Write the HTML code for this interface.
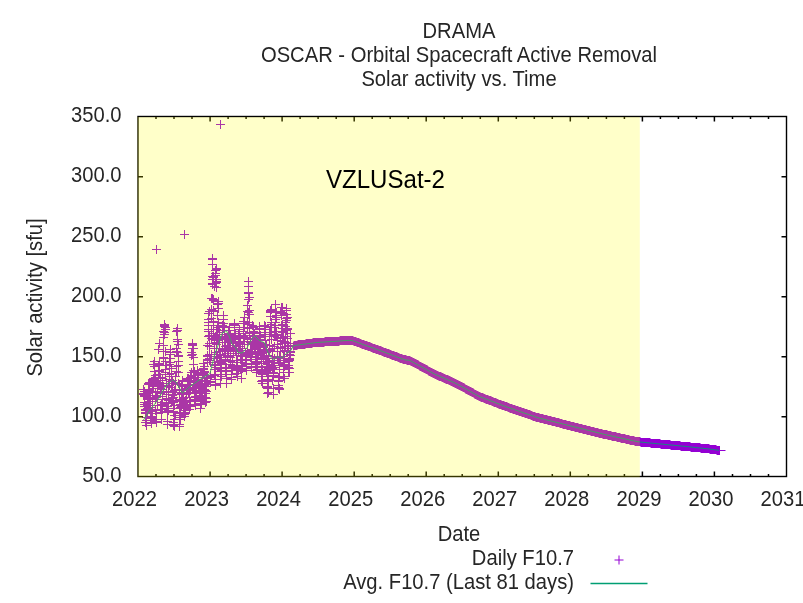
<!DOCTYPE html>
<html><head><meta charset="utf-8"><title>DRAMA OSCAR - Solar activity vs. Time</title>
<style>
html,body{margin:0;padding:0;background:#fff;}
svg{display:block}
text{font-family:"Liberation Sans",Arial,sans-serif;font-size:20.2px;fill:#262626}
</style></head><body>
<svg width="803" height="603" viewBox="0 0 803 603">
<rect width="803" height="603" fill="#fff"/>
<text transform="translate(459 37.5) scale(1 1.08)" text-anchor="middle">DRAMA</text>
<text transform="translate(459 61.5) scale(1 1.08)" text-anchor="middle">OSCAR - Orbital Spacecraft Active Removal</text>
<text transform="translate(459 85.6) scale(1 1.08)" text-anchor="middle">Solar activity vs. Time</text>
<text transform="translate(459 541.2) scale(1 1.08)" text-anchor="middle">Date</text>
<text transform="translate(41.5 297.5) rotate(-90) scale(1 1.08)" text-anchor="middle">Solar activity [sfu]</text>
<text transform="translate(121.5 482.2) scale(1 1.08)" text-anchor="end">50.0</text><text transform="translate(121.5 422.2) scale(1 1.08)" text-anchor="end">100.0</text><text transform="translate(121.5 362.2) scale(1 1.08)" text-anchor="end">150.0</text><text transform="translate(121.5 302.2) scale(1 1.08)" text-anchor="end">200.0</text><text transform="translate(121.5 242.2) scale(1 1.08)" text-anchor="end">250.0</text><text transform="translate(121.5 182.2) scale(1 1.08)" text-anchor="end">300.0</text><text transform="translate(121.5 122.2) scale(1 1.08)" text-anchor="end">350.0</text>
<text transform="translate(134.5 506.3) scale(1 1.08)" text-anchor="middle">2022</text><text transform="translate(206.6 506.3) scale(1 1.08)" text-anchor="middle">2023</text><text transform="translate(278.6 506.3) scale(1 1.08)" text-anchor="middle">2024</text><text transform="translate(350.7 506.3) scale(1 1.08)" text-anchor="middle">2025</text><text transform="translate(422.7 506.3) scale(1 1.08)" text-anchor="middle">2026</text><text transform="translate(494.8 506.3) scale(1 1.08)" text-anchor="middle">2027</text><text transform="translate(566.8 506.3) scale(1 1.08)" text-anchor="middle">2028</text><text transform="translate(638.9 506.3) scale(1 1.08)" text-anchor="middle">2029</text><text transform="translate(710.9 506.3) scale(1 1.08)" text-anchor="middle">2030</text><text transform="translate(783 506.3) scale(1 1.08)" text-anchor="middle">2031</text>
<text transform="translate(574 565) scale(1 1.08)" text-anchor="end">Daily F10.7</text>
<text transform="translate(574 589) scale(1 1.08)" text-anchor="end">Avg. F10.7 (Last 81 days)</text>
<path d="M614.5 560h9M619 555.5v9" stroke="#9400d3" stroke-width="1" fill="none"/>
<path d="M590.5 583.5h57" stroke="#009e73" stroke-width="1.3" fill="none"/>
<path d="M139 393.5h9M143.5 389v9M139 389.5h9M143.5 385v9M139 389.5h9M143.5 385v9M139 394.5h9M143.5 390v9M140 391.5h9M144.5 387v9M140 396.5h9M144.5 392v9M140 395.5h9M144.5 391v9M140 393.5h9M144.5 389v9M140 404.5h9M144.5 400v9M140 402.5h9M144.5 398v9M140 406.5h9M144.5 402v9M141 406.5h9M145.5 402v9M141 413.5h9M145.5 409v9M141 412.5h9M145.5 408v9M141 412.5h9M145.5 408v9M141 409.5h9M145.5 405v9M141 410.5h9M145.5 406v9M141 422.5h9M145.5 418v9M142 422.5h9M146.5 418v9M142 417.5h9M146.5 413v9M142 425.5h9M146.5 421v9M142 420.5h9M146.5 416v9M142 417.5h9M146.5 413v9M142 409.5h9M146.5 405v9M142 409.5h9M146.5 405v9M143 412.5h9M147.5 408v9M143 410.5h9M147.5 406v9M143 408.5h9M147.5 404v9M143 399.5h9M147.5 395v9M143 405.5h9M147.5 401v9M143 403.5h9M147.5 399v9M143 398.5h9M147.5 394v9M144 398.5h9M148.5 394v9M144 397.5h9M148.5 393v9M144 399.5h9M148.5 395v9M144 393.5h9M148.5 389v9M144 392.5h9M148.5 388v9M144 384.5h9M148.5 380v9M144 383.5h9M148.5 379v9M144 384.5h9M148.5 380v9M145 382.5h9M149.5 378v9M145 389.5h9M149.5 385v9M145 384.5h9M149.5 380v9M145 391.5h9M149.5 387v9M145 390.5h9M149.5 386v9M145 401.5h9M149.5 397v9M145 395.5h9M149.5 391v9M146 407.5h9M150.5 403v9M146 411.5h9M150.5 407v9M146 405.5h9M150.5 401v9M146 410.5h9M150.5 406v9M146 407.5h9M150.5 403v9M146 398.5h9M150.5 394v9M146 417.5h9M150.5 413v9M147 418.5h9M151.5 414v9M147 416.5h9M151.5 412v9M147 418.5h9M151.5 414v9M147 423.5h9M151.5 419v9M147 420.5h9M151.5 416v9M147 413.5h9M151.5 409v9M147 411.5h9M151.5 407v9M148 417.5h9M152.5 413v9M148 409.5h9M152.5 405v9M148 405.5h9M152.5 401v9M148 409.5h9M152.5 405v9M148 398.5h9M152.5 394v9M148 401.5h9M152.5 397v9M148 386.5h9M152.5 382v9M149 388.5h9M153.5 384v9M149 385.5h9M153.5 381v9M149 386.5h9M153.5 382v9M149 379.5h9M153.5 375v9M149 388.5h9M153.5 384v9M149 378.5h9M153.5 374v9M149 364.5h9M153.5 360v9M150 380.5h9M154.5 376v9M150 361.5h9M154.5 357v9M150 382.5h9M154.5 378v9M150 366.5h9M154.5 362v9M150 381.5h9M154.5 377v9M150 371.5h9M154.5 367v9M150 379.5h9M154.5 375v9M151 395.5h9M155.5 391v9M151 375.5h9M155.5 371v9M151 377.5h9M155.5 373v9M151 392.5h9M155.5 388v9M151 397.5h9M155.5 393v9M151 399.5h9M155.5 395v9M151 410.5h9M155.5 406v9M152 396.5h9M156.5 392v9M152 413.5h9M156.5 409v9M152 413.5h9M156.5 409v9M152 422.5h9M156.5 418v9M152 419.5h9M156.5 415v9M152 421.5h9M156.5 417v9M152 396.5h9M156.5 392v9M153 405.5h9M157.5 401v9M153 392.5h9M157.5 388v9M153 396.5h9M157.5 392v9M153 399.5h9M157.5 395v9M153 392.5h9M157.5 388v9M153 391.5h9M157.5 387v9M153 382.5h9M157.5 378v9M154 382.5h9M158.5 378v9M154 377.5h9M158.5 373v9M154 383.5h9M158.5 379v9M154 374.5h9M158.5 370v9M154 349.5h9M158.5 345v9M154 365.5h9M158.5 361v9M154 365.5h9M158.5 361v9M154 349.5h9M158.5 345v9M155 343.5h9M159.5 339v9M155 371.5h9M159.5 367v9M155 363.5h9M159.5 359v9M155 370.5h9M159.5 366v9M155 384.5h9M159.5 380v9M155 364.5h9M159.5 360v9M155 374.5h9M159.5 370v9M156 377.5h9M160.5 373v9M156 388.5h9M160.5 384v9M156 380.5h9M160.5 376v9M156 393.5h9M160.5 389v9M156 392.5h9M160.5 388v9M156 405.5h9M160.5 401v9M156 409.5h9M160.5 405v9M157 389.5h9M161.5 385v9M157 409.5h9M161.5 405v9M157 405.5h9M161.5 401v9M157 412.5h9M161.5 408v9M157 419.5h9M161.5 415v9M157 419.5h9M161.5 415v9M157 404.5h9M161.5 400v9M158 409.5h9M162.5 405v9M158 402.5h9M162.5 398v9M158 396.5h9M162.5 392v9M158 380.5h9M162.5 376v9M158 380.5h9M162.5 376v9M158 378.5h9M162.5 374v9M158 383.5h9M162.5 379v9M159 386.5h9M163.5 382v9M159 357.5h9M163.5 353v9M159 351.5h9M163.5 347v9M159 358.5h9M163.5 354v9M159 345.5h9M163.5 341v9M159 337.5h9M163.5 333v9M159 331.5h9M163.5 327v9M160 326.5h9M164.5 322v9M160 334.5h9M164.5 330v9M160 324.5h9M164.5 320v9M160 332.5h9M164.5 328v9M160 324.5h9M164.5 320v9M160 325.5h9M164.5 321v9M160 326.5h9M164.5 322v9M161 327.5h9M165.5 323v9M161 329.5h9M165.5 325v9M161 361.5h9M165.5 357v9M161 372.5h9M165.5 368v9M161 351.5h9M165.5 347v9M161 374.5h9M165.5 370v9M161 369.5h9M165.5 365v9M162 365.5h9M166.5 361v9M162 394.5h9M166.5 390v9M162 403.5h9M166.5 399v9M162 385.5h9M166.5 381v9M162 391.5h9M166.5 387v9M162 398.5h9M166.5 394v9M162 399.5h9M166.5 395v9M163 411.5h9M167.5 407v9M163 421.5h9M167.5 417v9M163 412.5h9M167.5 408v9M163 424.5h9M167.5 420v9M163 424.5h9M167.5 420v9M163 406.5h9M167.5 402v9M163 408.5h9M167.5 404v9M164 400.5h9M168.5 396v9M164 410.5h9M168.5 406v9M164 403.5h9M168.5 399v9M164 403.5h9M168.5 399v9M164 399.5h9M168.5 395v9M164 386.5h9M168.5 382v9M164 392.5h9M168.5 388v9M165 379.5h9M169.5 375v9M165 376.5h9M169.5 372v9M165 358.5h9M169.5 354v9M165 385.5h9M169.5 381v9M165 362.5h9M169.5 358v9M165 368.5h9M169.5 364v9M165 364.5h9M169.5 360v9M165 374.5h9M169.5 370v9M166 362.5h9M170.5 358v9M166 349.5h9M170.5 345v9M166 354.5h9M170.5 350v9M166 352.5h9M170.5 348v9M166 358.5h9M170.5 354v9M166 349.5h9M170.5 345v9M166 362.5h9M170.5 358v9M167 383.5h9M171.5 379v9M167 373.5h9M171.5 369v9M167 387.5h9M171.5 383v9M167 400.5h9M171.5 396v9M167 381.5h9M171.5 377v9M167 368.5h9M171.5 364v9M167 381.5h9M171.5 377v9M168 394.5h9M172.5 390v9M168 395.5h9M172.5 391v9M168 380.5h9M172.5 376v9M168 391.5h9M172.5 387v9M168 395.5h9M172.5 391v9M168 398.5h9M172.5 394v9M168 401.5h9M172.5 397v9M169 397.5h9M173.5 393v9M169 402.5h9M173.5 398v9M169 408.5h9M173.5 404v9M169 422.5h9M173.5 418v9M169 411.5h9M173.5 407v9M169 425.5h9M173.5 421v9M169 412.5h9M173.5 408v9M170 426.5h9M174.5 422v9M170 419.5h9M174.5 415v9M170 415.5h9M174.5 411v9M170 424.5h9M174.5 420v9M170 392.5h9M174.5 388v9M170 390.5h9M174.5 386v9M170 405.5h9M174.5 401v9M171 389.5h9M175.5 385v9M171 389.5h9M175.5 385v9M171 415.5h9M175.5 411v9M171 383.5h9M175.5 379v9M171 382.5h9M175.5 378v9M171 376.5h9M175.5 372v9M171 384.5h9M175.5 380v9M172 371.5h9M176.5 367v9M172 366.5h9M176.5 362v9M172 348.5h9M176.5 344v9M172 352.5h9M176.5 348v9M172 351.5h9M176.5 347v9M172 331.5h9M176.5 327v9M172 348.5h9M176.5 344v9M173 341.5h9M177.5 337v9M173 352.5h9M177.5 348v9M173 328.5h9M177.5 324v9M173 328.5h9M177.5 324v9M173 328.5h9M177.5 324v9M173 330.5h9M177.5 326v9M173 339.5h9M177.5 335v9M174 344.5h9M178.5 340v9M174 355.5h9M178.5 351v9M174 361.5h9M178.5 357v9M174 365.5h9M178.5 361v9M174 356.5h9M178.5 352v9M174 372.5h9M178.5 368v9M174 383.5h9M178.5 379v9M175 394.5h9M179.5 390v9M175 400.5h9M179.5 396v9M175 384.5h9M179.5 380v9M175 399.5h9M179.5 395v9M175 408.5h9M179.5 404v9M175 417.5h9M179.5 413v9M175 426.5h9M179.5 422v9M175 424.5h9M179.5 420v9M176 413.5h9M180.5 409v9M176 419.5h9M180.5 415v9M176 415.5h9M180.5 411v9M176 412.5h9M180.5 408v9M176 407.5h9M180.5 403v9M176 415.5h9M180.5 411v9M176 404.5h9M180.5 400v9M177 406.5h9M181.5 402v9M177 393.5h9M181.5 389v9M177 401.5h9M181.5 397v9M177 392.5h9M181.5 388v9M177 385.5h9M181.5 381v9M177 393.5h9M181.5 389v9M177 392.5h9M181.5 388v9M178 386.5h9M182.5 382v9M178 386.5h9M182.5 382v9M178 389.5h9M182.5 385v9M178 381.5h9M182.5 377v9M178 380.5h9M182.5 376v9M178 390.5h9M182.5 386v9M178 392.5h9M182.5 388v9M179 398.5h9M183.5 394v9M179 394.5h9M183.5 390v9M179 403.5h9M183.5 399v9M179 404.5h9M183.5 400v9M179 397.5h9M183.5 393v9M179 407.5h9M183.5 403v9M179 401.5h9M183.5 397v9M180 402.5h9M184.5 398v9M180 407.5h9M184.5 403v9M180 408.5h9M184.5 404v9M180 405.5h9M184.5 401v9M180 412.5h9M184.5 408v9M180 414.5h9M184.5 410v9M180 416.5h9M184.5 412v9M181 413.5h9M185.5 409v9M181 407.5h9M185.5 403v9M181 406.5h9M185.5 402v9M181 410.5h9M185.5 406v9M181 408.5h9M185.5 404v9M181 405.5h9M185.5 401v9M181 400.5h9M185.5 396v9M182 400.5h9M186.5 396v9M182 397.5h9M186.5 393v9M182 394.5h9M186.5 390v9M182 394.5h9M186.5 390v9M182 392.5h9M186.5 388v9M182 389.5h9M186.5 385v9M182 388.5h9M186.5 384v9M183 384.5h9M187.5 380v9M183 378.5h9M187.5 374v9M183 379.5h9M187.5 375v9M183 379.5h9M187.5 375v9M183 385.5h9M187.5 381v9M183 378.5h9M187.5 374v9M183 388.5h9M187.5 384v9M184 387.5h9M188.5 383v9M184 378.5h9M188.5 374v9M184 380.5h9M188.5 376v9M184 385.5h9M188.5 381v9M184 393.5h9M188.5 389v9M184 389.5h9M188.5 385v9M184 392.5h9M188.5 388v9M185 387.5h9M189.5 383v9M185 380.5h9M189.5 376v9M185 393.5h9M189.5 389v9M185 400.5h9M189.5 396v9M185 404.5h9M189.5 400v9M185 400.5h9M189.5 396v9M185 404.5h9M189.5 400v9M185 409.5h9M189.5 405v9M186 401.5h9M190.5 397v9M186 406.5h9M190.5 402v9M186 388.5h9M190.5 384v9M186 384.5h9M190.5 380v9M186 381.5h9M190.5 377v9M186 387.5h9M190.5 383v9M186 377.5h9M190.5 373v9M187 378.5h9M191.5 374v9M187 376.5h9M191.5 372v9M187 372.5h9M191.5 368v9M187 375.5h9M191.5 371v9M187 372.5h9M191.5 368v9M187 352.5h9M191.5 348v9M187 355.5h9M191.5 351v9M188 348.5h9M192.5 344v9M188 343.5h9M192.5 339v9M188 354.5h9M192.5 350v9M188 345.5h9M192.5 341v9M188 344.5h9M192.5 340v9M188 345.5h9M192.5 341v9M188 354.5h9M192.5 350v9M189 348.5h9M193.5 344v9M189 357.5h9M193.5 353v9M189 370.5h9M193.5 366v9M189 372.5h9M193.5 368v9M189 364.5h9M193.5 360v9M189 370.5h9M193.5 366v9M189 388.5h9M193.5 384v9M190 371.5h9M194.5 367v9M190 378.5h9M194.5 374v9M190 377.5h9M194.5 373v9M190 390.5h9M194.5 386v9M190 392.5h9M194.5 388v9M190 400.5h9M194.5 396v9M190 382.5h9M194.5 378v9M191 399.5h9M195.5 395v9M191 392.5h9M195.5 388v9M191 404.5h9M195.5 400v9M191 397.5h9M195.5 393v9M191 405.5h9M195.5 401v9M191 396.5h9M195.5 392v9M191 388.5h9M195.5 384v9M192 397.5h9M196.5 393v9M192 384.5h9M196.5 380v9M192 386.5h9M196.5 382v9M192 391.5h9M196.5 387v9M192 387.5h9M196.5 383v9M192 385.5h9M196.5 381v9M192 382.5h9M196.5 378v9M193 383.5h9M197.5 379v9M193 383.5h9M197.5 379v9M193 379.5h9M197.5 375v9M193 381.5h9M197.5 377v9M193 381.5h9M197.5 377v9M193 374.5h9M197.5 370v9M193 370.5h9M197.5 366v9M194 377.5h9M198.5 373v9M194 373.5h9M198.5 369v9M194 377.5h9M198.5 373v9M194 380.5h9M198.5 376v9M194 375.5h9M198.5 371v9M194 382.5h9M198.5 378v9M194 375.5h9M198.5 371v9M195 387.5h9M199.5 383v9M195 384.5h9M199.5 380v9M195 388.5h9M199.5 384v9M195 392.5h9M199.5 388v9M195 388.5h9M199.5 384v9M195 393.5h9M199.5 389v9M195 392.5h9M199.5 388v9M196 396.5h9M200.5 392v9M196 403.5h9M200.5 399v9M196 400.5h9M200.5 396v9M196 401.5h9M200.5 397v9M196 399.5h9M200.5 395v9M196 408.5h9M200.5 404v9M196 404.5h9M200.5 400v9M196 408.5h9M200.5 404v9M197 398.5h9M201.5 394v9M197 403.5h9M201.5 399v9M197 404.5h9M201.5 400v9M197 395.5h9M201.5 391v9M197 388.5h9M201.5 384v9M197 397.5h9M201.5 393v9M197 393.5h9M201.5 389v9M198 390.5h9M202.5 386v9M198 389.5h9M202.5 385v9M198 380.5h9M202.5 376v9M198 384.5h9M202.5 380v9M198 381.5h9M202.5 377v9M198 373.5h9M202.5 369v9M198 377.5h9M202.5 373v9M199 369.5h9M203.5 365v9M199 373.5h9M203.5 369v9M199 372.5h9M203.5 368v9M199 374.5h9M203.5 370v9M199 363.5h9M203.5 359v9M199 369.5h9M203.5 365v9M199 368.5h9M203.5 364v9M200 371.5h9M204.5 367v9M200 372.5h9M204.5 368v9M200 375.5h9M204.5 371v9M200 366.5h9M204.5 362v9M200 385.5h9M204.5 381v9M200 390.5h9M204.5 386v9M200 389.5h9M204.5 385v9M201 393.5h9M205.5 389v9M201 383.5h9M205.5 379v9M201 384.5h9M205.5 380v9M201 397.5h9M205.5 393v9M201 402.5h9M205.5 398v9M201 398.5h9M205.5 394v9M201 390.5h9M205.5 386v9M202 401.5h9M206.5 397v9M202 391.5h9M206.5 387v9M202 398.5h9M206.5 394v9M202 380.5h9M206.5 376v9M202 391.5h9M206.5 387v9M202 381.5h9M206.5 377v9M202 386.5h9M206.5 382v9M203 378.5h9M207.5 374v9M203 356.5h9M207.5 352v9M203 355.5h9M207.5 351v9M203 360.5h9M207.5 356v9M203 359.5h9M207.5 355v9M203 362.5h9M207.5 358v9M203 345.5h9M207.5 341v9M204 336.5h9M208.5 332v9M204 331.5h9M208.5 327v9M204 325.5h9M208.5 321v9M204 329.5h9M208.5 325v9M204 319.5h9M208.5 315v9M204 322.5h9M208.5 318v9M204 313.5h9M208.5 309v9M205 311.5h9M209.5 307v9M205 335.5h9M209.5 331v9M205 346.5h9M209.5 342v9M205 343.5h9M209.5 339v9M205 354.5h9M209.5 350v9M205 360.5h9M209.5 356v9M205 358.5h9M209.5 354v9M206 375.5h9M210.5 371v9M206 362.5h9M210.5 358v9M206 376.5h9M210.5 372v9M206 377.5h9M210.5 373v9M206 382.5h9M210.5 378v9M206 381.5h9M210.5 377v9M206 375.5h9M210.5 371v9M206 358.5h9M210.5 354v9M207 354.5h9M211.5 350v9M207 335.5h9M211.5 331v9M207 329.5h9M211.5 325v9M207 338.5h9M211.5 334v9M207 309.5h9M211.5 305v9M207 318.5h9M211.5 314v9M207 298.5h9M211.5 294v9M208 283.5h9M212.5 279v9M208 298.5h9M212.5 294v9M208 259.5h9M212.5 255v9M208 258.5h9M212.5 254v9M208 264.5h9M212.5 260v9M208 276.5h9M212.5 272v9M208 284.5h9M212.5 280v9M209 300.5h9M213.5 296v9M209 299.5h9M213.5 295v9M209 311.5h9M213.5 307v9M209 310.5h9M213.5 306v9M209 333.5h9M213.5 329v9M209 321.5h9M213.5 317v9M209 329.5h9M213.5 325v9M210 339.5h9M214.5 335v9M210 348.5h9M214.5 344v9M210 343.5h9M214.5 339v9M210 375.5h9M214.5 371v9M210 356.5h9M214.5 352v9M210 364.5h9M214.5 360v9M210 369.5h9M214.5 365v9M211 374.5h9M215.5 370v9M211 385.5h9M215.5 381v9M211 384.5h9M215.5 380v9M211 369.5h9M215.5 365v9M211 367.5h9M215.5 363v9M211 365.5h9M215.5 361v9M211 379.5h9M215.5 375v9M212 352.5h9M216.5 348v9M212 342.5h9M216.5 338v9M212 340.5h9M216.5 336v9M212 344.5h9M216.5 340v9M212 358.5h9M216.5 354v9M212 329.5h9M216.5 325v9M212 337.5h9M216.5 333v9M213 356.5h9M217.5 352v9M213 325.5h9M217.5 321v9M213 339.5h9M217.5 335v9M213 334.5h9M217.5 330v9M213 325.5h9M217.5 321v9M213 304.5h9M217.5 300v9M213 315.5h9M217.5 311v9M214 308.5h9M218.5 304v9M214 301.5h9M218.5 297v9M214 303.5h9M218.5 299v9M214 322.5h9M218.5 318v9M214 327.5h9M218.5 323v9M214 340.5h9M218.5 336v9M214 338.5h9M218.5 334v9M215 332.5h9M219.5 328v9M215 336.5h9M219.5 332v9M215 342.5h9M219.5 338v9M215 338.5h9M219.5 334v9M215 357.5h9M219.5 353v9M215 354.5h9M219.5 350v9M215 351.5h9M219.5 347v9M216 355.5h9M220.5 351v9M216 355.5h9M220.5 351v9M216 364.5h9M220.5 360v9M216 374.5h9M220.5 370v9M216 371.5h9M220.5 367v9M216 383.5h9M220.5 379v9M216 383.5h9M220.5 379v9M216 368.5h9M220.5 364v9M217 370.5h9M221.5 366v9M217 363.5h9M221.5 359v9M217 376.5h9M221.5 372v9M217 362.5h9M221.5 358v9M217 361.5h9M221.5 357v9M217 360.5h9M221.5 356v9M217 368.5h9M221.5 364v9M218 349.5h9M222.5 345v9M218 336.5h9M222.5 332v9M218 337.5h9M222.5 333v9M218 342.5h9M222.5 338v9M218 334.5h9M222.5 330v9M218 325.5h9M222.5 321v9M218 350.5h9M222.5 346v9M219 327.5h9M223.5 323v9M219 319.5h9M223.5 315v9M219 315.5h9M223.5 311v9M219 315.5h9M223.5 311v9M219 315.5h9M223.5 311v9M219 323.5h9M223.5 319v9M219 326.5h9M223.5 322v9M220 326.5h9M224.5 322v9M220 339.5h9M224.5 335v9M220 338.5h9M224.5 334v9M220 334.5h9M224.5 330v9M220 330.5h9M224.5 326v9M220 348.5h9M224.5 344v9M220 350.5h9M224.5 346v9M221 351.5h9M225.5 347v9M221 346.5h9M225.5 342v9M221 359.5h9M225.5 355v9M221 351.5h9M225.5 347v9M221 371.5h9M225.5 367v9M221 368.5h9M225.5 364v9M221 371.5h9M225.5 367v9M222 367.5h9M226.5 363v9M222 368.5h9M226.5 364v9M222 383.5h9M226.5 379v9M222 378.5h9M226.5 374v9M222 367.5h9M226.5 363v9M222 371.5h9M226.5 367v9M222 374.5h9M226.5 370v9M223 355.5h9M227.5 351v9M223 356.5h9M227.5 352v9M223 353.5h9M227.5 349v9M223 357.5h9M227.5 353v9M223 345.5h9M227.5 341v9M223 350.5h9M227.5 346v9M223 339.5h9M227.5 335v9M224 350.5h9M228.5 346v9M224 347.5h9M228.5 343v9M224 338.5h9M228.5 334v9M224 341.5h9M228.5 337v9M224 330.5h9M228.5 326v9M224 330.5h9M228.5 326v9M224 335.5h9M228.5 331v9M225 327.5h9M229.5 323v9M225 333.5h9M229.5 329v9M225 327.5h9M229.5 323v9M225 340.5h9M229.5 336v9M225 341.5h9M229.5 337v9M225 334.5h9M229.5 330v9M225 330.5h9M229.5 326v9M226 334.5h9M230.5 330v9M226 349.5h9M230.5 345v9M226 350.5h9M230.5 346v9M226 345.5h9M230.5 341v9M226 357.5h9M230.5 353v9M226 364.5h9M230.5 360v9M226 360.5h9M230.5 356v9M226 361.5h9M230.5 357v9M227 370.5h9M231.5 366v9M227 377.5h9M231.5 373v9M227 379.5h9M231.5 375v9M227 368.5h9M231.5 364v9M227 379.5h9M231.5 375v9M227 374.5h9M231.5 370v9M227 370.5h9M231.5 366v9M228 365.5h9M232.5 361v9M228 368.5h9M232.5 364v9M228 360.5h9M232.5 356v9M228 366.5h9M232.5 362v9M228 360.5h9M232.5 356v9M228 362.5h9M232.5 358v9M228 347.5h9M232.5 343v9M229 351.5h9M233.5 347v9M229 353.5h9M233.5 349v9M229 348.5h9M233.5 344v9M229 345.5h9M233.5 341v9M229 337.5h9M233.5 333v9M229 348.5h9M233.5 344v9M229 342.5h9M233.5 338v9M230 335.5h9M234.5 331v9M230 324.5h9M234.5 320v9M230 323.5h9M234.5 319v9M230 327.5h9M234.5 323v9M230 325.5h9M234.5 321v9M230 323.5h9M234.5 319v9M230 336.5h9M234.5 332v9M231 339.5h9M235.5 335v9M231 333.5h9M235.5 329v9M231 339.5h9M235.5 335v9M231 341.5h9M235.5 337v9M231 351.5h9M235.5 347v9M231 339.5h9M235.5 335v9M231 343.5h9M235.5 339v9M232 353.5h9M236.5 349v9M232 355.5h9M236.5 351v9M232 373.5h9M236.5 369v9M232 360.5h9M236.5 356v9M232 368.5h9M236.5 364v9M232 367.5h9M236.5 363v9M232 369.5h9M236.5 365v9M233 376.5h9M237.5 372v9M233 376.5h9M237.5 372v9M233 366.5h9M237.5 362v9M233 370.5h9M237.5 366v9M233 365.5h9M237.5 361v9M233 365.5h9M237.5 361v9M233 360.5h9M237.5 356v9M234 370.5h9M238.5 366v9M234 346.5h9M238.5 342v9M234 349.5h9M238.5 345v9M234 341.5h9M238.5 337v9M234 333.5h9M238.5 329v9M234 342.5h9M238.5 338v9M234 351.5h9M238.5 347v9M235 343.5h9M239.5 339v9M235 342.5h9M239.5 338v9M235 335.5h9M239.5 331v9M235 329.5h9M239.5 325v9M235 343.5h9M239.5 339v9M235 331.5h9M239.5 327v9M235 346.5h9M239.5 342v9M236 338.5h9M240.5 334v9M236 344.5h9M240.5 340v9M236 348.5h9M240.5 344v9M236 350.5h9M240.5 346v9M236 356.5h9M240.5 352v9M236 359.5h9M240.5 355v9M236 369.5h9M240.5 365v9M237 362.5h9M241.5 358v9M237 353.5h9M241.5 349v9M237 355.5h9M241.5 351v9M237 362.5h9M241.5 358v9M237 369.5h9M241.5 365v9M237 378.5h9M241.5 374v9M237 365.5h9M241.5 361v9M237 371.5h9M241.5 367v9M238 368.5h9M242.5 364v9M238 365.5h9M242.5 361v9M238 359.5h9M242.5 355v9M238 359.5h9M242.5 355v9M238 353.5h9M242.5 349v9M238 356.5h9M242.5 352v9M238 348.5h9M242.5 344v9M239 327.5h9M243.5 323v9M239 338.5h9M243.5 334v9M239 336.5h9M243.5 332v9M239 327.5h9M243.5 323v9M239 323.5h9M243.5 319v9M239 331.5h9M243.5 327v9M239 321.5h9M243.5 317v9M240 317.5h9M244.5 313v9M240 323.5h9M244.5 319v9M240 327.5h9M244.5 323v9M240 321.5h9M244.5 317v9M240 338.5h9M244.5 334v9M240 337.5h9M244.5 333v9M240 344.5h9M244.5 340v9M241 335.5h9M245.5 331v9M241 359.5h9M245.5 355v9M241 354.5h9M245.5 350v9M241 356.5h9M245.5 352v9M241 352.5h9M245.5 348v9M241 356.5h9M245.5 352v9M241 354.5h9M245.5 350v9M242 370.5h9M246.5 366v9M242 364.5h9M246.5 360v9M242 368.5h9M246.5 364v9M242 366.5h9M246.5 362v9M242 355.5h9M246.5 351v9M242 360.5h9M246.5 356v9M242 363.5h9M246.5 359v9M243 350.5h9M247.5 346v9M243 352.5h9M247.5 348v9M243 341.5h9M247.5 337v9M243 328.5h9M247.5 324v9M243 322.5h9M247.5 318v9M243 305.5h9M247.5 301v9M243 311.5h9M247.5 307v9M244 314.5h9M248.5 310v9M244 299.5h9M248.5 295v9M244 292.5h9M248.5 288v9M244 286.5h9M248.5 282v9M244 281.5h9M248.5 277v9M244 293.5h9M248.5 289v9M244 312.5h9M248.5 308v9M245 297.5h9M249.5 293v9M245 310.5h9M249.5 306v9M245 314.5h9M249.5 310v9M245 322.5h9M249.5 318v9M245 324.5h9M249.5 320v9M245 333.5h9M249.5 329v9M245 332.5h9M249.5 328v9M246 339.5h9M250.5 335v9M246 342.5h9M250.5 338v9M246 344.5h9M250.5 340v9M246 357.5h9M250.5 353v9M246 353.5h9M250.5 349v9M246 356.5h9M250.5 352v9M246 356.5h9M250.5 352v9M247 367.5h9M251.5 363v9M247 354.5h9M251.5 350v9M247 363.5h9M251.5 359v9M247 367.5h9M251.5 363v9M247 367.5h9M251.5 363v9M247 359.5h9M251.5 355v9M247 356.5h9M251.5 352v9M247 357.5h9M251.5 353v9M248 351.5h9M252.5 347v9M248 352.5h9M252.5 348v9M248 344.5h9M252.5 340v9M248 349.5h9M252.5 345v9M248 343.5h9M252.5 339v9M248 335.5h9M252.5 331v9M248 325.5h9M252.5 321v9M249 343.5h9M253.5 339v9M249 338.5h9M253.5 334v9M249 338.5h9M253.5 334v9M249 327.5h9M253.5 323v9M249 336.5h9M253.5 332v9M249 331.5h9M253.5 327v9M249 326.5h9M253.5 322v9M250 333.5h9M254.5 329v9M250 335.5h9M254.5 331v9M250 335.5h9M254.5 331v9M250 347.5h9M254.5 343v9M250 345.5h9M254.5 341v9M250 342.5h9M254.5 338v9M250 341.5h9M254.5 337v9M251 346.5h9M255.5 342v9M251 357.5h9M255.5 353v9M251 352.5h9M255.5 348v9M251 348.5h9M255.5 344v9M251 351.5h9M255.5 347v9M251 357.5h9M255.5 353v9M251 364.5h9M255.5 360v9M252 357.5h9M256.5 353v9M252 366.5h9M256.5 362v9M252 372.5h9M256.5 368v9M252 372.5h9M256.5 368v9M252 361.5h9M256.5 357v9M252 370.5h9M256.5 366v9M252 362.5h9M256.5 358v9M253 369.5h9M257.5 365v9M253 359.5h9M257.5 355v9M253 366.5h9M257.5 362v9M253 361.5h9M257.5 357v9M253 345.5h9M257.5 341v9M253 352.5h9M257.5 348v9M253 357.5h9M257.5 353v9M254 353.5h9M258.5 349v9M254 349.5h9M258.5 345v9M254 342.5h9M258.5 338v9M254 349.5h9M258.5 345v9M254 354.5h9M258.5 350v9M254 344.5h9M258.5 340v9M254 340.5h9M258.5 336v9M255 337.5h9M259.5 333v9M255 328.5h9M259.5 324v9M255 332.5h9M259.5 328v9M255 326.5h9M259.5 322v9M255 339.5h9M259.5 335v9M255 329.5h9M259.5 325v9M255 326.5h9M259.5 322v9M256 335.5h9M260.5 331v9M256 340.5h9M260.5 336v9M256 343.5h9M260.5 339v9M256 336.5h9M260.5 332v9M256 355.5h9M260.5 351v9M256 353.5h9M260.5 349v9M256 352.5h9M260.5 348v9M257 353.5h9M261.5 349v9M257 363.5h9M261.5 359v9M257 361.5h9M261.5 357v9M257 367.5h9M261.5 363v9M257 367.5h9M261.5 363v9M257 371.5h9M261.5 367v9M257 381.5h9M261.5 377v9M257 376.5h9M261.5 372v9M258 373.5h9M262.5 369v9M258 383.5h9M262.5 379v9M258 380.5h9M262.5 376v9M258 371.5h9M262.5 367v9M258 380.5h9M262.5 376v9M258 369.5h9M262.5 365v9M258 374.5h9M262.5 370v9M259 357.5h9M263.5 353v9M259 347.5h9M263.5 343v9M259 346.5h9M263.5 342v9M259 358.5h9M263.5 354v9M259 349.5h9M263.5 345v9M259 350.5h9M263.5 346v9M259 347.5h9M263.5 343v9M260 334.5h9M264.5 330v9M260 351.5h9M264.5 347v9M260 332.5h9M264.5 328v9M260 336.5h9M264.5 332v9M260 325.5h9M264.5 321v9M260 329.5h9M264.5 325v9M260 332.5h9M264.5 328v9M261 326.5h9M265.5 322v9M261 326.5h9M265.5 322v9M261 334.5h9M265.5 330v9M261 334.5h9M265.5 330v9M261 344.5h9M265.5 340v9M261 359.5h9M265.5 355v9M261 340.5h9M265.5 336v9M262 345.5h9M266.5 341v9M262 352.5h9M266.5 348v9M262 356.5h9M266.5 352v9M262 352.5h9M266.5 348v9M262 366.5h9M266.5 362v9M262 372.5h9M266.5 368v9M262 371.5h9M266.5 367v9M263 364.5h9M267.5 360v9M263 387.5h9M267.5 383v9M263 370.5h9M267.5 366v9M263 388.5h9M267.5 384v9M263 393.5h9M267.5 389v9M263 379.5h9M267.5 375v9M263 386.5h9M267.5 382v9M264 392.5h9M268.5 388v9M264 381.5h9M268.5 377v9M264 368.5h9M268.5 364v9M264 362.5h9M268.5 358v9M264 372.5h9M268.5 368v9M264 361.5h9M268.5 357v9M264 355.5h9M268.5 351v9M265 362.5h9M269.5 358v9M265 350.5h9M269.5 346v9M265 349.5h9M269.5 345v9M265 349.5h9M269.5 345v9M265 345.5h9M269.5 341v9M265 336.5h9M269.5 332v9M265 332.5h9M269.5 328v9M266 332.5h9M270.5 328v9M266 327.5h9M270.5 323v9M266 312.5h9M270.5 308v9M266 311.5h9M270.5 307v9M266 310.5h9M270.5 306v9M266 310.5h9M270.5 306v9M266 316.5h9M270.5 312v9M267 309.5h9M271.5 305v9M267 336.5h9M271.5 332v9M267 324.5h9M271.5 320v9M267 339.5h9M271.5 335v9M267 322.5h9M271.5 318v9M267 327.5h9M271.5 323v9M267 366.5h9M271.5 362v9M268 360.5h9M272.5 356v9M268 348.5h9M272.5 344v9M268 351.5h9M272.5 347v9M268 356.5h9M272.5 352v9M268 368.5h9M272.5 364v9M268 367.5h9M272.5 363v9M268 369.5h9M272.5 365v9M268 380.5h9M272.5 376v9M269 373.5h9M273.5 369v9M269 394.5h9M273.5 390v9M269 376.5h9M273.5 372v9M269 388.5h9M273.5 384v9M269 365.5h9M273.5 361v9M269 372.5h9M273.5 368v9M269 375.5h9M273.5 371v9M270 358.5h9M274.5 354v9M270 367.5h9M274.5 363v9M270 362.5h9M274.5 358v9M270 365.5h9M274.5 361v9M270 346.5h9M274.5 342v9M270 336.5h9M274.5 332v9M270 327.5h9M274.5 323v9M271 334.5h9M275.5 330v9M271 319.5h9M275.5 315v9M271 325.5h9M275.5 321v9M271 322.5h9M275.5 318v9M271 311.5h9M275.5 307v9M271 304.5h9M275.5 300v9M271 312.5h9M275.5 308v9M272 312.5h9M276.5 308v9M272 315.5h9M276.5 311v9M272 317.5h9M276.5 313v9M272 331.5h9M276.5 327v9M272 317.5h9M276.5 313v9M272 335.5h9M276.5 331v9M272 331.5h9M276.5 327v9M273 348.5h9M277.5 344v9M273 340.5h9M277.5 336v9M273 344.5h9M277.5 340v9M273 356.5h9M277.5 352v9M273 337.5h9M277.5 333v9M273 357.5h9M277.5 353v9M273 348.5h9M277.5 344v9M274 360.5h9M278.5 356v9M274 380.5h9M278.5 376v9M274 381.5h9M278.5 377v9M274 377.5h9M278.5 373v9M274 385.5h9M278.5 381v9M274 388.5h9M278.5 384v9M274 387.5h9M278.5 383v9M275 389.5h9M279.5 385v9M275 377.5h9M279.5 373v9M275 388.5h9M279.5 384v9M275 363.5h9M279.5 359v9M275 369.5h9M279.5 365v9M275 365.5h9M279.5 361v9M275 356.5h9M279.5 352v9M276 347.5h9M280.5 343v9M276 358.5h9M280.5 354v9M276 357.5h9M280.5 353v9M276 347.5h9M280.5 343v9M276 351.5h9M280.5 347v9M276 338.5h9M280.5 334v9M276 311.5h9M280.5 307v9M277 331.5h9M281.5 327v9M277 312.5h9M281.5 308v9M277 325.5h9M281.5 321v9M277 307.5h9M281.5 303v9M277 313.5h9M281.5 309v9M277 315.5h9M281.5 311v9M277 313.5h9M281.5 309v9M278 307.5h9M282.5 303v9M278 324.5h9M282.5 320v9M278 328.5h9M282.5 324v9M278 341.5h9M282.5 337v9M278 332.5h9M282.5 328v9M278 343.5h9M282.5 339v9M278 338.5h9M282.5 334v9M278 348.5h9M282.5 344v9M279 337.5h9M283.5 333v9M279 372.5h9M283.5 368v9M279 362.5h9M283.5 358v9M279 356.5h9M283.5 352v9M279 369.5h9M283.5 365v9M279 376.5h9M283.5 372v9M279 376.5h9M283.5 372v9M280 378.5h9M284.5 374v9M280 366.5h9M284.5 362v9M280 343.5h9M284.5 339v9M280 350.5h9M284.5 346v9M280 364.5h9M284.5 360v9M280 358.5h9M284.5 354v9M280 351.5h9M284.5 347v9M281 336.5h9M285.5 332v9M281 346.5h9M285.5 342v9M281 342.5h9M285.5 338v9M281 326.5h9M285.5 322v9M281 322.5h9M285.5 318v9M281 328.5h9M285.5 324v9M281 330.5h9M285.5 326v9M282 330.5h9M286.5 326v9M282 320.5h9M286.5 316v9M282 328.5h9M286.5 324v9M282 308.5h9M286.5 304v9M282 318.5h9M286.5 314v9M282 314.5h9M286.5 310v9M282 310.5h9M286.5 306v9M283 317.5h9M287.5 313v9M283 338.5h9M287.5 334v9M283 328.5h9M287.5 324v9M283 329.5h9M287.5 325v9M283 346.5h9M287.5 342v9M283 351.5h9M287.5 347v9M283 348.5h9M287.5 344v9M284 361.5h9M288.5 357v9M284 345.5h9M288.5 341v9M284 372.5h9M288.5 368v9M284 367.5h9M288.5 363v9M284 365.5h9M288.5 361v9M284 367.5h9M288.5 363v9M284 368.5h9M288.5 364v9M285 368.5h9M289.5 364v9M285 368.5h9M289.5 364v9M285 358.5h9M289.5 354v9M285 372.5h9M289.5 368v9M285 359.5h9M289.5 355v9M285 360.5h9M289.5 356v9M285 354.5h9M289.5 350v9M286 351.5h9M290.5 347v9M286 355.5h9M290.5 351v9M286 352.5h9M290.5 348v9M286 343.5h9M290.5 339v9M286 343.5h9M290.5 339v9M286 346.5h9M290.5 342v9M286 333.5h9M290.5 329v9M212 279.5h9M216.5 275v9M211 270.5h9M215.5 266v9M212 282.5h9M216.5 278v9M212 287.5h9M216.5 283v9M212 269.5h9M216.5 265v9M211 273.5h9M215.5 269v9M209 276.5h9M213.5 272v9M211 283.5h9M215.5 279v9M212 268.5h9M216.5 264v9M209 277.5h9M213.5 273v9M212 281.5h9M216.5 277v9M210 286.5h9M214.5 282v9M211 275.5h9M215.5 271v9M208 279.5h9M212.5 275v9M212 282.5h9M216.5 278v9M208 279.5h9M212.5 275v9M152 249.5h9M156.5 245v9M180 234.5h9M184.5 230v9M216 124.5h9M220.5 120v9" stroke="#9400d3" stroke-width="1" fill="none" shape-rendering="crispEdges"/>
<polygon points="293,342 294,341 295,341 296,341 297,341 298,340 299,340 300,340 301,340 302,340 303,340 304,340 305,340 306,339 307,339 308,339 309,339 310,339 311,339 312,339 313,338 314,338 315,338 316,338 317,338 318,338 319,338 320,338 321,338 322,338 323,338 324,338 325,337 326,337 327,337 328,337 329,337 330,337 331,337 332,337 333,337 334,337 335,337 336,337 337,337 338,337 339,337 340,336 341,336 342,336 343,336 344,336 345,336 346,336 347,336 348,336 349,336 350,336 351,336 352,336 353,336 354,337 355,337 356,337 357,338 358,338 359,338 360,339 361,339 362,340 363,340 364,340 365,341 366,341 367,341 368,342 369,342 370,342 371,343 372,343 373,344 374,344 375,344 376,345 377,345 378,345 379,346 380,346 381,346 382,347 383,347 384,348 385,348 386,348 387,349 388,349 389,349 390,350 391,350 392,351 393,351 394,351 395,352 396,352 397,352 398,353 399,353 400,354 401,354 402,354 403,355 404,355 405,355 406,355 407,356 408,356 409,356 410,356 411,357 412,357 413,358 414,358 415,359 416,359 417,360 418,360 419,361 420,362 421,362 422,363 423,363 424,364 425,364 426,365 427,365 428,366 429,367 430,367 431,368 432,368 433,369 434,369 435,370 436,370 437,371 438,371 439,372 440,372 441,372 442,373 443,373 444,374 445,374 446,375 447,375 448,375 449,376 450,376 451,377 452,377 453,378 454,378 455,379 456,379 457,380 458,380 459,381 460,381 461,382 462,382 463,383 464,383 465,384 466,385 467,385 468,386 469,386 470,387 471,387 472,388 473,388 474,389 475,390 476,390 477,391 478,391 479,392 480,392 481,393 482,393 483,393 484,394 485,394 486,395 487,395 488,395 489,396 490,396 491,396 492,397 493,397 494,398 495,398 496,398 497,399 498,399 499,400 500,400 501,400 502,401 503,401 504,401 505,402 506,402 507,402 508,403 509,403 510,404 511,404 512,404 513,405 514,405 515,405 516,406 517,406 518,406 519,407 520,407 521,407 522,408 523,408 524,408 525,409 526,409 527,409 528,410 529,410 530,410 531,411 532,411 533,412 534,412 535,412 536,413 537,413 538,413 539,413 540,414 541,414 542,414 543,414 544,415 545,415 546,415 547,415 548,416 549,416 550,416 551,416 552,417 553,417 554,417 555,417 556,418 557,418 558,418 559,418 560,419 561,419 562,419 563,420 564,420 565,420 566,420 567,421 568,421 569,421 570,421 571,422 572,422 573,422 574,422 575,423 576,423 577,423 578,423 579,424 580,424 581,424 582,424 583,425 584,425 585,425 586,425 587,426 588,426 589,426 590,426 591,427 592,427 593,427 594,427 595,428 596,428 597,428 598,428 599,429 600,429 601,429 602,429 603,430 604,430 605,430 606,430 607,430 608,431 609,431 610,431 611,431 612,432 613,432 614,432 615,432 616,432 617,433 618,433 619,433 620,433 621,434 622,434 623,434 624,434 625,434 626,435 627,435 628,435 629,435 630,436 631,436 632,436 633,436 634,436 635,437 636,437 637,437 638,437 639,437 640,437 641,438 642,438 643,438 644,438 645,438 646,438 647,438 648,438 649,438 650,438 651,439 652,439 653,439 654,439 655,439 656,439 657,439 658,439 659,439 660,439 661,440 662,440 663,440 664,440 665,440 666,440 667,440 668,440 669,440 670,440 671,441 672,441 673,441 674,441 675,441 676,441 677,441 678,441 679,441 680,441 681,442 682,442 683,442 684,442 685,442 686,442 687,442 688,442 689,442 690,442 691,443 692,443 693,443 694,443 695,443 696,443 697,443 698,443 699,443 700,443 701,444 702,444 703,444 704,444 705,444 706,444 707,444 708,444 709,444 710,445 711,445 712,445 713,445 714,445 715,445 716,445 717,446 718,446 719,446 720,446 720,455 719,455 718,455 717,455 716,454 715,454 714,454 713,454 712,454 711,454 710,454 709,453 708,453 707,453 706,453 705,453 704,453 703,453 702,453 701,453 700,452 699,452 698,452 697,452 696,452 695,452 694,452 693,452 692,452 691,452 690,451 689,451 688,451 687,451 686,451 685,451 684,451 683,451 682,451 681,451 680,450 679,450 678,450 677,450 676,450 675,450 674,450 673,450 672,450 671,450 670,449 669,449 668,449 667,449 666,449 665,449 664,449 663,449 662,449 661,449 660,448 659,448 658,448 657,448 656,448 655,448 654,448 653,448 652,448 651,448 650,447 649,447 648,447 647,447 646,447 645,447 644,447 643,447 642,447 641,447 640,446 639,446 638,446 637,446 636,446 635,446 634,445 633,445 632,445 631,445 630,445 629,444 628,444 627,444 626,444 625,443 624,443 623,443 622,443 621,443 620,442 619,442 618,442 617,442 616,441 615,441 614,441 613,441 612,441 611,440 610,440 609,440 608,440 607,439 606,439 605,439 604,439 603,439 602,438 601,438 600,438 599,438 598,437 597,437 596,437 595,437 594,436 593,436 592,436 591,436 590,435 589,435 588,435 587,435 586,434 585,434 584,434 583,434 582,433 581,433 580,433 579,433 578,432 577,432 576,432 575,432 574,431 573,431 572,431 571,431 570,430 569,430 568,430 567,430 566,429 565,429 564,429 563,429 562,428 561,428 560,428 559,427 558,427 557,427 556,427 555,426 554,426 553,426 552,426 551,425 550,425 549,425 548,425 547,424 546,424 545,424 544,424 543,423 542,423 541,423 540,423 539,422 538,422 537,422 536,422 535,421 534,421 533,421 532,420 531,420 530,419 529,419 528,419 527,418 526,418 525,418 524,417 523,417 522,417 521,416 520,416 519,416 518,415 517,415 516,415 515,414 514,414 513,414 512,413 511,413 510,413 509,412 508,412 507,411 506,411 505,411 504,410 503,410 502,410 501,409 500,409 499,409 498,408 497,408 496,407 495,407 494,407 493,406 492,406 491,405 490,405 489,405 488,404 487,404 486,404 485,403 484,403 483,402 482,402 481,402 480,401 479,401 478,400 477,400 476,399 475,399 474,398 473,397 472,397 471,396 470,396 469,395 468,395 467,394 466,394 465,393 464,392 463,392 462,391 461,391 460,390 459,390 458,389 457,389 456,388 455,388 454,387 453,387 452,386 451,386 450,385 449,385 448,384 447,384 446,384 445,383 444,383 443,382 442,382 441,381 440,381 439,381 438,380 437,380 436,379 435,379 434,378 433,378 432,377 431,377 430,376 429,376 428,375 427,374 426,374 425,373 424,373 423,372 422,372 421,371 420,371 419,370 418,369 417,369 416,368 415,368 414,367 413,367 412,366 411,366 410,365 409,365 408,365 407,365 406,364 405,364 404,364 403,364 402,363 401,363 400,363 399,362 398,362 397,361 396,361 395,361 394,360 393,360 392,360 391,359 390,359 389,358 388,358 387,358 386,357 385,357 384,357 383,356 382,356 381,355 380,355 379,355 378,354 377,354 376,354 375,353 374,353 373,353 372,352 371,352 370,351 369,351 368,351 367,350 366,350 365,350 364,349 363,349 362,349 361,348 360,348 359,347 358,347 357,347 356,346 355,346 354,346 353,345 352,345 351,345 350,345 349,345 348,345 347,345 346,345 345,345 344,345 343,345 342,345 341,345 340,345 339,346 338,346 337,346 336,346 335,346 334,346 333,346 332,346 331,346 330,346 329,346 328,346 327,346 326,346 325,346 324,347 323,347 322,347 321,347 320,347 319,347 318,347 317,347 316,347 315,347 314,347 313,347 312,348 311,348 310,348 309,348 308,348 307,348 306,348 305,349 304,349 303,349 302,349 301,349 300,349 299,349 298,349 297,350 296,350 295,350 294,350 293,351" fill="#9400d3"/>
<path d="M720 450.5h5.5" stroke="#9400d3" stroke-width="1"/>
<polyline points="143.5,420 149,411 157.5,400.5 166,385.4 172.6,380 175.9,382 182.3,393 190,386.5 200.6,379 209.3,374 210,373.5 214.3,356 218.7,343.6 221.8,333.7 226.2,330.6 229.3,336.2 231.8,343.6 235.5,347.4 238,352.4 242.4,353 247.3,347.4 251.1,339.9 254.8,335.5 258.5,339.9 264.8,343 267.3,351 271,357.3 273.5,359.8 277.2,356.7 282.2,358 286,353.6 291,350.5 292.8,346.8 293,346 295,345.4 297,345.1 299,344.9 301,344.6 303,344.3 305,344.1 307,343.8 309,343.5 311,343.3 313,343 315,342.7 317,342.5 319,342.3 321,342.2 323,342.1 325,342 327,341.8 329,341.7 331,341.6 333,341.5 335,341.4 337,341.2 339,341.1 341,340.9 343,340.7 345,340.6 347,340.4 349,340.4 351,340.4 353,340.8 355,341.5 357,342.2 359,343 361,343.7 363,344.5 365,345.2 367,345.9 369,346.6 371,347.3 373,348 375,348.8 377,349.5 379,350.2 381,350.9 383,351.7 385,352.4 387,353.2 389,353.9 391,354.7 393,355.5 395,356.2 397,357 399,357.7 401,358.5 403,359.2 405,359.9 407,360.1 409,360.2 411,361.1 413,362.2 415,363.3 417,364.4 419,365.5 421,366.6 423,367.7 425,368.8 427,369.9 429,371 431,372.1 433,373.2 435,374.3 437,375.1 439,376 441,376.9 443,377.7 445,378.6 447,379.5 449,380.4 451,381.2 453,382.1 455,383 457,384.1 459,385.2 461,386.3 463,387.4 465,388.5 467,389.6 469,390.7 471,391.9 473,393 475,394.1 477,395.2 479,396.3 481,397.2 483,397.9 485,398.7 487,399.4 489,400.2 491,401 493,401.7 495,402.5 497,403.3 499,404 501,404.8 503,405.6 505,406.3 507,407 509,407.7 511,408.4 513,409.1 515,409.8 517,410.5 519,411.2 521,411.9 523,412.6 525,413.3 527,413.9 529,414.6 531,415.3 533,416 535,416.7 537,417.4 539,418 541,418.5 543,419 545,419.5 547,420 549,420.5 551,421 553,421.5 555,422 557,422.5 559,423 561,423.5 563,424 565,424.5 567,425 569,425.5 571,426 573,426.5 575,427 577,427.5 579,428 581,428.5 583,429 585,429.5 587,430 589,430.5 591,431 593,431.5 595,432 597,432.5 599,433 601,433.5 603,434 605,434.5 607,435 609,435.4 611,435.8 613,436.3 615,436.7 617,437.2 619,437.6 621,438 623,438.5 625,438.9 627,439.4 629,439.8 631,440.3 633,440.7 635,441.1 637,441.6 639,441.9 641,442.1 643,442.3 645,442.5 647,442.7 649,442.9 651,443.1 653,443.3 655,443.5 657,443.7 659,443.9 661,444 663,444.2 665,444.4 667,444.6 669,444.8 671,445 673,445.2 675,445.4 677,445.6 679,445.8 681,446 683,446.2 685,446.4 687,446.6 689,446.8 691,447 693,447.2 695,447.4 697,447.7 699,447.9 701,448.1 703,448.3 705,448.5 707,448.7 709,449 711,449.2 713,449.5 715,449.8 717,450 719,450.3" fill="none" stroke="#009e73" stroke-width="1" stroke-opacity="0.85"/>
<rect x="138.0" y="116.5" width="648.5" height="360" fill="none" stroke="#000" stroke-width="1.4"/>
<path d="M156 476.5v-2.5 M156 116.5v2.5M174 476.5v-2.5 M174 116.5v2.5M192 476.5v-2.5 M192 116.5v2.5M210.1 476.5v-5 M210.1 116.5v5M228.1 476.5v-2.5 M228.1 116.5v2.5M246.1 476.5v-2.5 M246.1 116.5v2.5M264.1 476.5v-2.5 M264.1 116.5v2.5M282.1 476.5v-5 M282.1 116.5v5M300.1 476.5v-2.5 M300.1 116.5v2.5M318.1 476.5v-2.5 M318.1 116.5v2.5M336.2 476.5v-2.5 M336.2 116.5v2.5M354.2 476.5v-5 M354.2 116.5v5M372.2 476.5v-2.5 M372.2 116.5v2.5M390.2 476.5v-2.5 M390.2 116.5v2.5M408.2 476.5v-2.5 M408.2 116.5v2.5M426.2 476.5v-5 M426.2 116.5v5M444.2 476.5v-2.5 M444.2 116.5v2.5M462.2 476.5v-2.5 M462.2 116.5v2.5M480.3 476.5v-2.5 M480.3 116.5v2.5M498.3 476.5v-5 M498.3 116.5v5M516.3 476.5v-2.5 M516.3 116.5v2.5M534.3 476.5v-2.5 M534.3 116.5v2.5M552.3 476.5v-2.5 M552.3 116.5v2.5M570.3 476.5v-5 M570.3 116.5v5M588.3 476.5v-2.5 M588.3 116.5v2.5M606.4 476.5v-2.5 M606.4 116.5v2.5M624.4 476.5v-2.5 M624.4 116.5v2.5M642.4 476.5v-5 M642.4 116.5v5M660.4 476.5v-2.5 M660.4 116.5v2.5M678.4 476.5v-2.5 M678.4 116.5v2.5M696.4 476.5v-2.5 M696.4 116.5v2.5M714.4 476.5v-5 M714.4 116.5v5M732.5 476.5v-2.5 M732.5 116.5v2.5M750.5 476.5v-2.5 M750.5 116.5v2.5M768.5 476.5v-2.5 M768.5 116.5v2.5M138 416.8h5 M786.5 416.8h-5M138 356.8h5 M786.5 356.8h-5M138 296.8h5 M786.5 296.8h-5M138 236.8h5 M786.5 236.8h-5M138 176.8h5 M786.5 176.8h-5" stroke="#000" stroke-width="1.5" fill="none"/>
<rect x="137.5" y="117" width="502.3" height="360.3" fill="#ffff00" fill-opacity="0.21"/>
<text x="326" y="188" style="font-size:25px;fill:#000" textLength="119" lengthAdjust="spacingAndGlyphs">VZLUSat-2</text>
</svg>
</body></html>
